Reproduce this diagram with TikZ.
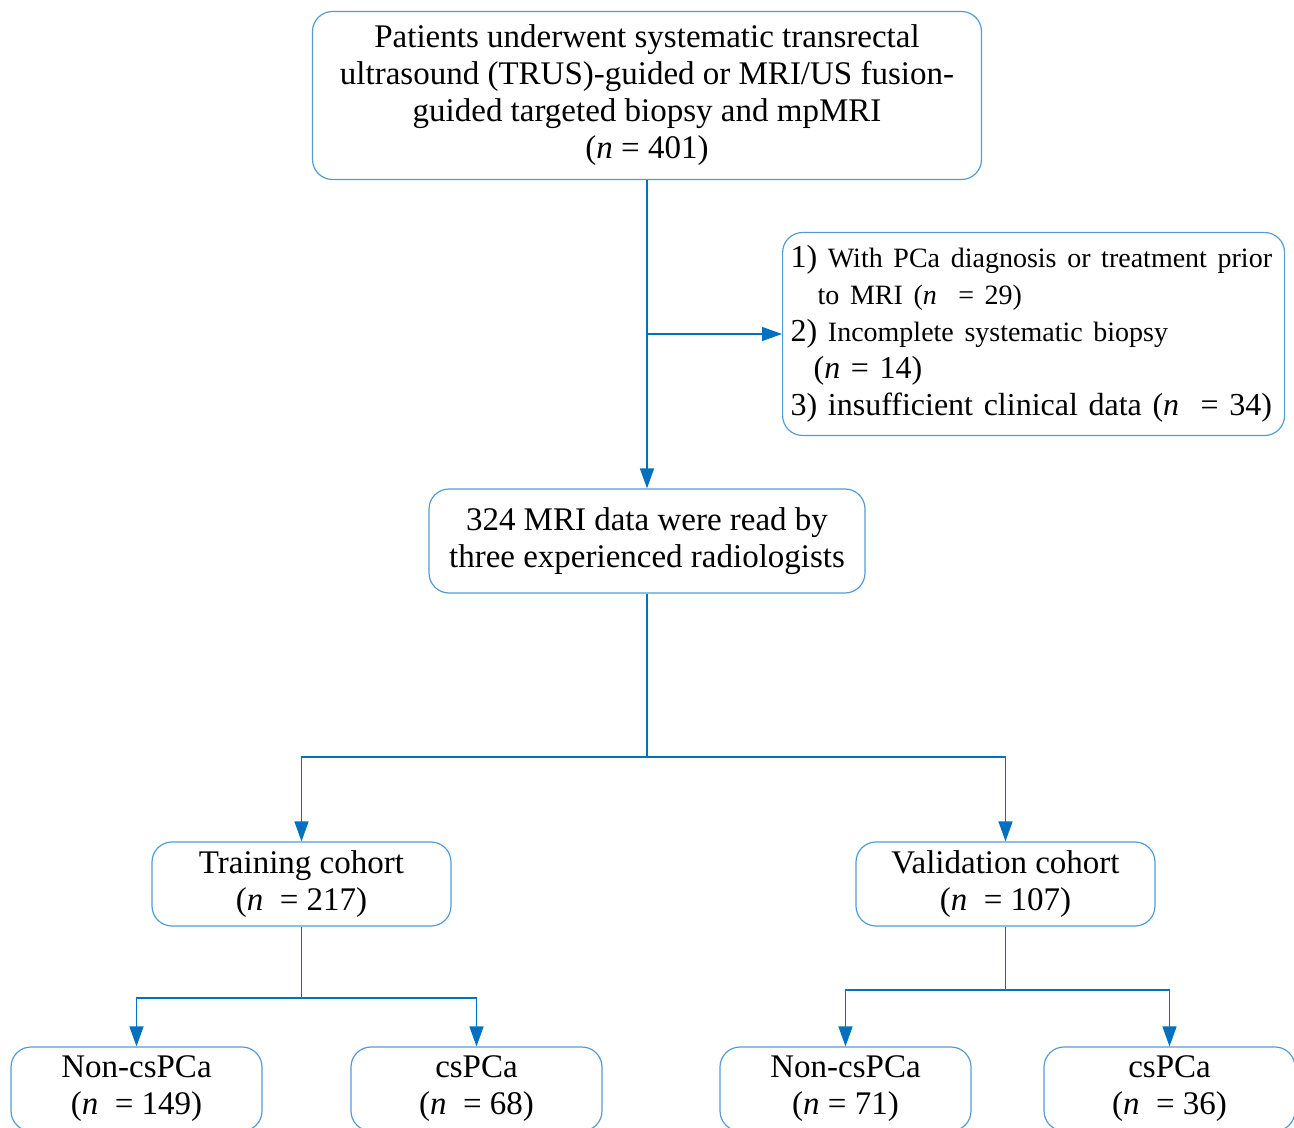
\documentclass[tikz,border=0pt]{standalone}
\usepackage{fontspec}
\setmainfont{Liberation Serif}
\usetikzlibrary{arrows.meta}
\definecolor{boxblue}{RGB}{84,155,214}
\definecolor{lineblue}{RGB}{0,112,192}
\newcommand{\boxfont}{\fontsize{16.5}{18.5}\selectfont}
\newcommand{\itemfont}{\fontsize{14}{18.5}\selectfont}
\newcommand{\nn}{\textit{n}}
\tikzset{
  box/.style={rectangle,draw=boxblue,line width=0.6pt,rounded corners=10pt,align=center,inner sep=2pt,font=\boxfont},
  link/.style={draw=lineblue,line width=0.7pt},
  flow/.style={link,-{Triangle[width=7pt,length=10pt]},lineblue}
}
\begin{document}
\begin{tikzpicture}[x=0.5pt,y=-0.5pt]
\useasboundingbox (0,0) rectangle (1294,1128);
\node[box,minimum width=334.5pt,minimum height=84pt] (patients) at (647,95.5)
  {Patients underwent systematic transrectal\\ultrasound (TRUS)-guided or MRI/US fusion-\\guided targeted biopsy and mpMRI\\(\nn{} = 401)};
\node[box,text width=243pt,inner xsep=4pt,inner ysep=3pt,minimum height=101.5pt,align=left,anchor=west,font={\fontsize{16}{18.5}\selectfont}] (excluded) at (782,334)
  {\mbox{1) {\itemfont With PCa diagnosis or treatment prior}}\\
   \mbox{\hspace*{13.5pt}{\itemfont to MRI (\nn{}\ \ = 29)}}\\
   \mbox{2) {\itemfont Incomplete systematic biopsy}}\\
   \mbox{\hspace*{11.5pt}(\nn{} = 14)}\\
   \mbox{3) insufficient clinical data (\nn{}\ \ = 34)}};
\node[box,minimum width=218pt,minimum height=52pt] (readers) at (647,541)
  {324 MRI data were read by\\three experienced radiologists};
\node[box,minimum width=149.5pt,minimum height=42pt] (training) at (301.5,884)
  {Training cohort\\(\nn{}\ \ = 217)};
\node[box,minimum width=149.5pt,minimum height=42pt] (validation) at (1005.5,884)
  {Validation cohort\\(\nn{}\ \ = 107)};
\node[box,minimum width=125.5pt,minimum height=42pt] (trainneg) at (136.5,1089)
  {Non-csPCa\\(\nn{}\ \ = 149)};
\node[box,minimum width=125.5pt,minimum height=42pt] (trainpos) at (476.5,1089)
  {csPCa\\(\nn{}\ \ = 68)};
\node[box,minimum width=125.5pt,minimum height=42pt] (validneg) at (845.5,1089)
  {Non-csPCa\\(\nn{} = 71)};
\node[box,minimum width=125.5pt,minimum height=42pt] (validpos) at (1169.5,1089)
  {csPCa\\(\nn{}\ \ = 36)};
\coordinate (split) at (647,757);
\coordinate (trainsplit) at (301.5,998);
\coordinate (validsplit) at (1005.5,990);
\draw[flow] (patients.south) -- (readers.north);
\draw[flow] (patients.south |- excluded.west) -- (excluded.west);
\draw[link] (readers.south) -- (split);
\draw[flow] (split) -| (training.north);
\draw[flow] (split) -| (validation.north);
\draw[link] (training.south) -- (trainsplit);
\draw[flow] (trainsplit) -| (trainneg.north);
\draw[flow] (trainsplit) -| (trainpos.north);
\draw[link] (validation.south) -- (validsplit);
\draw[flow] (validsplit) -| (validneg.north);
\draw[flow] (validsplit) -| (validpos.north);
\end{tikzpicture}
\end{document}
